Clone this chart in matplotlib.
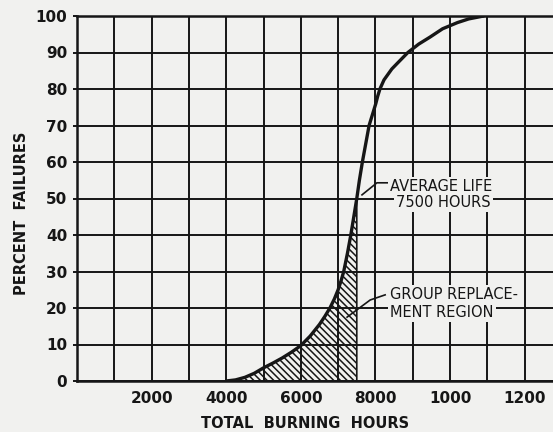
import matplotlib
matplotlib.use("Agg")
import matplotlib.pyplot as plt

# ---------------- DATA ----------------
hours = [4000, 4250, 4500, 4750, 5000, 5250, 5500, 5750, 6000, 6250, 6500,
         6650, 6780, 6900, 7000, 7080, 7150, 7250, 7340, 7420, 7500,
         7570, 7650, 7740, 7830, 7950, 8010, 8060, 8120, 8230, 8440, 8630,
         8870, 9160, 9460, 9800, 10200, 10500, 10900]
percent = [0, 0.3, 1, 2.1, 3.6, 4.9, 6.3, 7.9, 9.7, 12.3, 15.5,
           17.8, 20, 22.5, 25, 27.5, 30, 35, 40, 45, 50,
           55, 60, 65, 70, 74, 76, 78, 80, 82.5, 85.5, 87.5,
           90, 92.3, 94.2, 96.5, 98.2, 99.2, 100]

avg_life = 7500  # end of hatched group replacement region

y_ticks = [0, 10, 20, 30, 40, 50, 60, 70, 80, 90, 100]
x_grid = [1000, 2000, 3000, 4000, 5000, 6000, 7000, 8000, 9000, 10000, 11000, 12000]
x_label_pos = [2000, 4000, 6000, 8000, 10000, 12000]
x_label_text = ["2000", "4000", "6000", "8000", "1000", "1200"]

# ---------------- STYLE ----------------
BG = "#f1f1ef"
INK = "#161616"
plt.rcParams["hatch.linewidth"] = 1.1
plt.rcParams["hatch.color"] = INK

fig = plt.figure(figsize=(5.53, 4.32), dpi=100, facecolor=BG)
ax = fig.add_axes([77 / 553, 1 - 381 / 432, 1 - 77 / 553, (381 - 16) / 432])
ax.set_facecolor(BG)

ax.set_xlim(0, 12760)
ax.set_ylim(0, 100)

# grid (vertical lines set by hand so labelled and unlabelled columns match)
ax.set_xticks(x_label_pos)
ax.set_xticklabels(x_label_text, fontsize=11, fontweight="bold", color=INK)
ax.set_yticks(y_ticks)
ax.set_yticklabels([str(v) for v in y_ticks], fontsize=11, fontweight="bold", color=INK)
for gx in x_grid:
    ax.axvline(gx, color=INK, linewidth=1.4, zorder=1)
ax.grid(True, which="major", axis="y", color=INK, linewidth=1.4)
ax.tick_params(axis="x", which="both", length=0, pad=7)
ax.tick_params(axis="y", length=3, width=1.4, pad=4, color=INK)

for side in ["left", "bottom", "top"]:
    ax.spines[side].set_linewidth(1.8)
    ax.spines[side].set_color(INK)
ax.spines["right"].set_visible(False)

# hatched group replacement region
k = hours.index(avg_life) + 1
ax.fill_between(hours[:k], 0, percent[:k], facecolor="none", edgecolor=INK,
                hatch="\\\\\\\\\\", linewidth=1.2, zorder=3)

# failure curve
ax.plot(hours, percent, color=INK, linewidth=2.4, solid_capstyle="round",
        solid_joinstyle="round", zorder=4)

# annotations
box = dict(facecolor=BG, edgecolor="none", pad=1.5)
ax.plot([7640, 8040, 8330], [51, 54.3, 54.3], color=INK, linewidth=1.2, zorder=4)
ax.text(8390, 53.2, "AVERAGE LIFE", fontsize=10.5, color=INK, va="center",
        ha="left", bbox=box, zorder=5)
ax.text(8560, 48.9, "7500 HOURS", fontsize=10.5, color=INK, va="center",
        ha="left", bbox=box, zorder=5)

ax.plot([7240, 7860, 8260], [17.5, 22.2, 23.6], color=INK, linewidth=1.2, zorder=4)
ax.text(8390, 23.6, "GROUP REPLACE-", fontsize=10.5, color=INK, va="center",
        ha="left", bbox=box, zorder=5)
ax.text(8390, 18.9, "MENT REGION", fontsize=10.5, color=INK, va="center",
        ha="left", bbox=box, zorder=5)

# axis titles
fig.text(305 / 553, 1 - 424 / 432, "TOTAL  BURNING  HOURS", fontsize=10.5,
         fontweight="bold", color=INK, ha="center", va="center")
fig.text(22 / 553, 1 - 213 / 432, "PERCENT  FAILURES", fontsize=10.5,
         fontweight="bold", color=INK, ha="center", va="center", rotation=90)

fig.savefig("out.png", dpi=100, facecolor=BG)
